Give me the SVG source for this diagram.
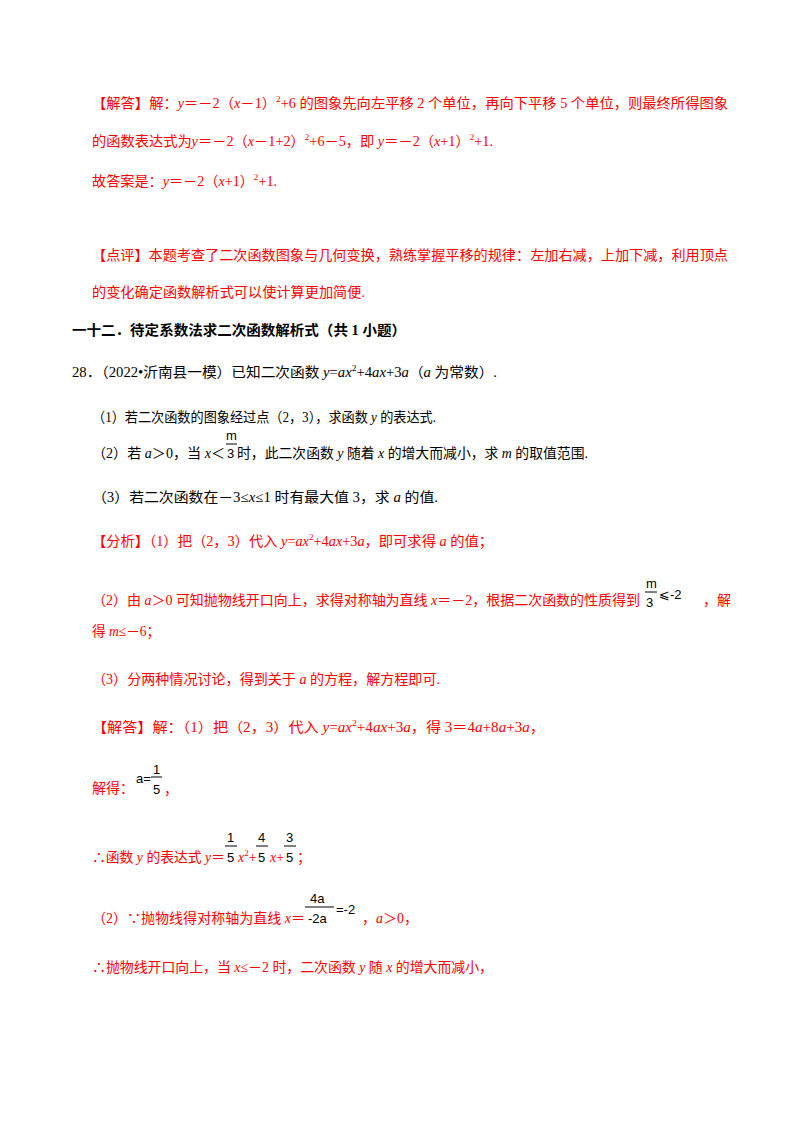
<svg xmlns="http://www.w3.org/2000/svg" width="800" height="1132" viewBox="0 0 800 1132">
<style>
text{font-family:"Liberation Serif","Noto Sans CJK SC",serif;font-size:14px}
.r{fill:#ff0000}
.k{fill:#000}
.b{font-weight:bold}
.i{font-style:italic}
.s{font-size:9px}
.f{font-family:"Liberation Sans","DejaVu Sans",sans-serif;font-size:13px;fill:#000}
.fl{stroke:#000;stroke-width:1}
</style>
<rect width="800" height="1132" fill="#fff"/>
<g id="answer1">
<text x="92" y="108" class="r" textLength="636" lengthAdjust="spacingAndGlyphs">【解答】解：<tspan class="i">y</tspan>＝－2（<tspan class="i">x</tspan>－1）<tspan class="s" dy="-6">2</tspan><tspan dy="6">+6 的图象先向左平移 2 个单位，再向下平移 5 个单位，则最终所得图象</tspan></text>
<text x="92" y="146" class="r" textLength="401" lengthAdjust="spacingAndGlyphs">的函数表达式为<tspan class="i">y</tspan>＝－2（<tspan class="i">x</tspan>－1+2）<tspan class="s" dy="-6">2</tspan><tspan dy="6">+6－5，即 </tspan><tspan class="i">y</tspan>＝－2（<tspan class="i">x</tspan>+1）<tspan class="s" dy="-6">2</tspan><tspan dy="6">+1.</tspan></text>
<text x="92" y="186" class="r" textLength="185" lengthAdjust="spacingAndGlyphs">故答案是：<tspan class="i">y</tspan>＝－2（<tspan class="i">x</tspan>+1）<tspan class="s" dy="-6">2</tspan><tspan dy="6">+1.</tspan></text>
<text x="92" y="260" class="r" textLength="636" lengthAdjust="spacingAndGlyphs">【点评】本题考查了二次函数图象与几何变换，熟练掌握平移的规律：左加右减，上加下减，利用顶点</text>
<text x="92" y="297" class="r" textLength="273" lengthAdjust="spacingAndGlyphs">的变化确定函数解析式可以使计算更加简便.</text>
</g>
<g id="heading"><text x="72" y="335" class="k b" textLength="334" lengthAdjust="spacingAndGlyphs">一十二．待定系数法求二次函数解析式（共 1 小题）</text></g>
<g id="q28">
<text x="72" y="377" class="k" textLength="425" lengthAdjust="spacingAndGlyphs">28．（2022•沂南县一模）已知二次函数 <tspan class="i">y</tspan>=<tspan class="i">ax</tspan><tspan class="s" dy="-6">2</tspan><tspan dy="6">+4</tspan><tspan class="i">ax</tspan>+3<tspan class="i">a</tspan>（<tspan class="i">a</tspan> 为常数）.</text>
<text x="92" y="422" class="k" textLength="344" lengthAdjust="spacingAndGlyphs">（1）若二次函数的图象经过点（2，3），求函数 <tspan class="i">y</tspan> 的表达式.</text>
<text x="92" y="458" class="k" textLength="133" lengthAdjust="spacingAndGlyphs">（2）若 <tspan class="i">a</tspan>＞0，当 <tspan class="i">x</tspan>＜</text>
<text x="226" y="440" class="f">m</text><line x1="226" y1="444" x2="237" y2="444" class="fl"/><text x="227" y="458" class="f">3</text>
<text x="237" y="458" class="k" textLength="351" lengthAdjust="spacingAndGlyphs">时，此二次函数 <tspan class="i">y</tspan> 随着 <tspan class="i">x</tspan> 的增大而减小，求 <tspan class="i">m</tspan> 的取值范围.</text>
<text x="92" y="502" class="k" textLength="346" lengthAdjust="spacingAndGlyphs">（3）若二次函数在－3≤<tspan class="i">x</tspan>≤1 时有最大值 3，求 <tspan class="i">a</tspan> 的值.</text>
</g>
<g id="analysis">
<text x="92" y="546" class="r" textLength="401" lengthAdjust="spacingAndGlyphs">【分析】（1）把（2，3）代入 <tspan class="i">y</tspan>=<tspan class="i">ax</tspan><tspan class="s" dy="-6">2</tspan><tspan dy="6">+4</tspan><tspan class="i">ax</tspan>+3<tspan class="i">a</tspan>，即可求得 <tspan class="i">a</tspan> 的值；</text>
<text x="92" y="605" class="r" textLength="548" lengthAdjust="spacingAndGlyphs">（2）由 <tspan class="i">a</tspan>＞0 可知抛物线开口向上，求得对称轴为直线 <tspan class="i">x</tspan>＝－2，根据二次函数的性质得到</text>
<text x="646" y="588" class="f">m</text><line x1="645" y1="592" x2="657" y2="592" class="fl"/><text x="646" y="607" class="f">3</text>
<text x="659" y="599" class="f">⩽-2</text>
<text x="703" y="605" class="r">，解</text>
<text x="92" y="636" class="r" textLength="68" lengthAdjust="spacingAndGlyphs">得 <tspan class="i">m</tspan>≤－6；</text>
<text x="92" y="684" class="r" textLength="348" lengthAdjust="spacingAndGlyphs">（3）分两种情况讨论，得到关于 <tspan class="i">a</tspan> 的方程，解方程即可.</text>
</g>
<g id="solution">
<text x="92" y="732" class="r" textLength="453" lengthAdjust="spacingAndGlyphs">【解答】解：（1）把（2，3）代入 <tspan class="i">y</tspan>=<tspan class="i">ax</tspan><tspan class="s" dy="-6">2</tspan><tspan dy="6">+4</tspan><tspan class="i">ax</tspan>+3<tspan class="i">a</tspan>，得 3＝4<tspan class="i">a</tspan>+8<tspan class="i">a</tspan>+3<tspan class="i">a</tspan>，</text>
<text x="92" y="793" class="r">解得：</text>
<text x="136" y="783" class="f">a=</text>
<text x="153" y="774" class="f">1</text><line x1="151" y1="777" x2="162" y2="777" class="fl"/><text x="153" y="794" class="f">5</text>
<text x="164" y="794" class="r">，</text>
<text x="92" y="862" class="r" textLength="133" lengthAdjust="spacingAndGlyphs">∴函数 <tspan class="i">y</tspan> 的表达式 <tspan class="i">y</tspan>＝</text>
<text x="227" y="842" class="f">1</text><line x1="225" y1="846" x2="237" y2="846" class="fl"/><text x="227" y="862" class="f">5</text>
<text x="238" y="862" class="r"><tspan class="i">x</tspan><tspan class="s" dy="-6">2</tspan><tspan dy="6">+</tspan></text>
<text x="258" y="842" class="f">4</text><line x1="256" y1="846" x2="268" y2="846" class="fl"/><text x="258" y="862" class="f">5</text>
<text x="270" y="862" class="r"><tspan class="i">x</tspan>+</text>
<text x="286" y="842" class="f">3</text><line x1="284" y1="846" x2="296" y2="846" class="fl"/><text x="286" y="862" class="f">5</text>
<text x="297" y="862" class="r">；</text>
<text x="92" y="923" class="r" textLength="213" lengthAdjust="spacingAndGlyphs">（2）∵抛物线得对称轴为直线 <tspan class="i">x</tspan>＝</text>
<text x="310" y="903" class="f">4a</text><line x1="305" y1="907" x2="334" y2="907" class="fl"/><text x="308" y="923" class="f">-2a</text>
<text x="336" y="914" class="f">=-2</text>
<text x="362" y="923" class="r">，<tspan class="i">a</tspan>＞0，</text>
<text x="92" y="972" class="r" textLength="401" lengthAdjust="spacingAndGlyphs">∴抛物线开口向上，当 <tspan class="i">x</tspan>≤－2 时，二次函数 <tspan class="i">y</tspan> 随 <tspan class="i">x</tspan> 的增大而减小，</text>
</g>
</svg>
